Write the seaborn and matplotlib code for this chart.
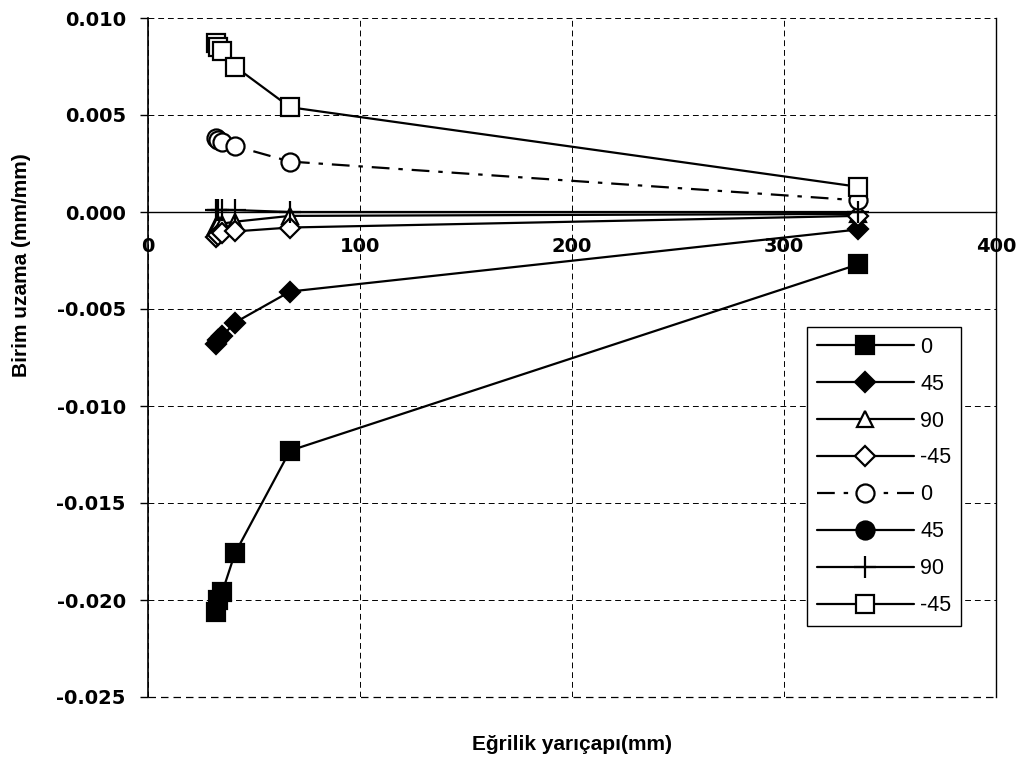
import numpy as np
import pandas as pd
import matplotlib
matplotlib.use("Agg")
import matplotlib.pyplot as plt
from matplotlib.ticker import FormatStrFormatter
from matplotlib.lines import Line2D
import seaborn as sns

# ---- data ----
radius = [32, 33, 35, 41, 67, 335]            # Eğrilik yarıçapı (mm)
inner_0 = [-0.0206, -0.0200, -0.0196, -0.0176, -0.0123, -0.0027]
inner_45 = [-0.0068, -0.0066, -0.0064, -0.0057, -0.0041, -0.0009]
inner_90 = [-0.0007, -0.0006, -0.0006, -0.0005, -0.0002, -0.0001]
inner_m45 = [-0.0013, -0.0012, -0.0011, -0.0010, -0.0008, -0.0002]
outer_0 = [0.0038, 0.0037, 0.0036, 0.0034, 0.0026, 0.0006]
outer_45 = []                                   # no visible points
outer_90 = [0.0001, 0.0001, 0.0001, 0.0001, 0.0000, 0.0000]
outer_m45 = [0.0087, 0.0085, 0.0083, 0.0075, 0.0054, 0.0013]

labels = ["0", "45", "90", "-45", "0", "45", "90", "-45"]
x_ticks = [0, 100, 200, 300, 400]
y_ticks = [-0.025, -0.020, -0.015, -0.010, -0.005, 0.000, 0.005, 0.010]

sns.set_theme(style="white")
plt.rcParams['font.family'] = ['DejaVu Sans']
plt.rcParams['axes.unicode_minus'] = False
for k in ['text.color', 'axes.labelcolor', 'xtick.color', 'ytick.color']:
    plt.rcParams[k] = 'black'

fig = plt.figure(figsize=(10.2, 7.57), dpi=100)
ax = fig.add_axes([148 / 1020, 1 - 697 / 757, 848 / 1020, 679 / 757])

styles = [
    (inner_0, dict(marker='s', markersize=13, markerfacecolor='black', linestyle='-')),
    (inner_45, dict(marker='D', markersize=10, markerfacecolor='black', linestyle='-')),
    (inner_90, dict(marker='^', markersize=12, markerfacecolor='white', linestyle='-')),
    (inner_m45, dict(marker='D', markersize=10, markerfacecolor='white', linestyle='-')),
    (outer_0, dict(marker='o', markersize=13, markerfacecolor='white', linestyle=(0, (8, 4, 2, 4)))),
    (outer_45, dict(marker='o', markersize=13, markerfacecolor='black', linestyle='-')),
    (outer_90, dict(marker='+', markersize=16, markerfacecolor='black', linestyle='-')),
    (outer_m45, dict(marker='s', markersize=13, markerfacecolor='white', linestyle='-')),
]

handles = []
for (vals, st), lab in zip(styles, labels):
    if len(vals):
        sns.lineplot(x=radius, y=vals, ax=ax, color='black', linewidth=1.6,
                     markeredgecolor='black', markeredgewidth=1.6,
                     estimator=None, sort=False, label=lab, **st)
        handles.append(ax.get_lines()[-1])
    else:
        handles.append(Line2D([], [], color='black', linewidth=1.6,
                              markeredgecolor='black', markeredgewidth=1.6, **st))

ax.set_xlim(0, 400)
ax.set_ylim(-0.025, 0.010)
ax.set_xticks(x_ticks)
ax.set_yticks(y_ticks)
ax.yaxis.set_major_formatter(FormatStrFormatter('%.3f'))

ax.set_axisbelow(True)
ax.grid(True, color='black', linestyle=(0, (6, 4)), linewidth=0.7)
ax.axhline(-0.025, color='black', linestyle=(0, (6, 4)), linewidth=0.9,
           clip_on=False, zorder=0.5)

ax.spines['top'].set_visible(False)
ax.spines['bottom'].set_position(('data', 0))
ax.spines['bottom'].set_color('black')
ax.spines['bottom'].set_linewidth(1.0)
ax.spines['left'].set_color('black')
ax.spines['left'].set_linewidth(1.2)
ax.spines['right'].set_color('black')
ax.spines['right'].set_linewidth(1.0)

ax.tick_params(axis='x', length=0, pad=18, labelsize=14)
ax.tick_params(axis='y', left=True, direction='out', length=6, width=1,
               pad=10, labelsize=14, color='black')
for t in ax.get_xticklabels() + ax.get_yticklabels():
    t.set_fontweight('bold')

ax.set_ylabel('Birim uzama (mm/mm)', fontsize=15, fontweight='bold',
              family=['Liberation Sans'])
ax.yaxis.set_label_coords((22 - 148) / 848, (697 - 265) / 679)
ax.yaxis.label.set_va('center')
ax.set_xlabel('Eğrilik yarıçapı(mm)', fontsize=15, fontweight='bold',
              family=['Liberation Sans'])
ax.xaxis.set_label_coords(0.5, (697 - 745) / 679)
ax.xaxis.label.set_va('center')

leg = ax.legend(handles, labels, loc='upper left',
                bbox_to_anchor=((807 - 148) / 848, (697 - 327) / 679),
                borderaxespad=0, frameon=True, fancybox=False,
                edgecolor='black', framealpha=1,
                prop={'family': 'Liberation Sans', 'size': 15.5},
                handlelength=4.5, handletextpad=0.3, labelspacing=0.74,
                borderpad=0.45)
leg.get_frame().set_linewidth(1.0)

fig.savefig('out.png', dpi=100, facecolor='white')
